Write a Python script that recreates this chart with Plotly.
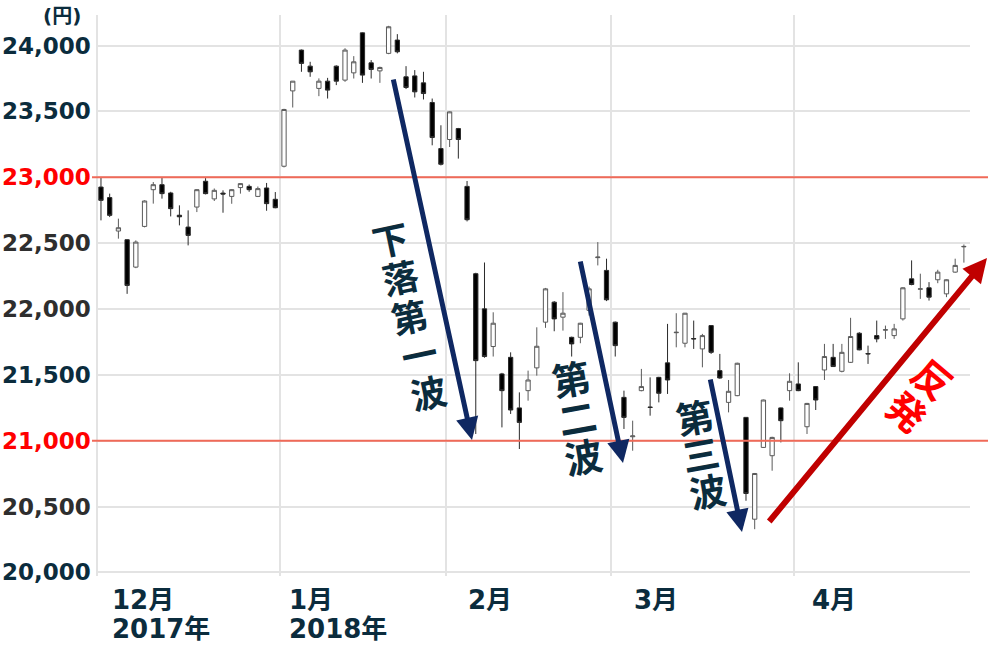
import plotly.graph_objects as go

# trading days (Nikkei 225), Dec 2017 - Apr 2018
dates = (
    ["2017-12-%02d" % d for d in [1, 4, 5, 6, 7, 8, 11, 12, 13, 14, 15, 18, 19, 20, 21, 22, 25, 26, 27, 28, 29]]
    + ["2018-01-%02d" % d for d in [4, 5, 9, 10, 11, 12, 15, 16, 17, 18, 19, 22, 23, 24, 25, 26, 29, 30, 31]]
    + ["2018-02-%02d" % d for d in [1, 2, 5, 6, 7, 8, 9, 13, 14, 15, 16, 19, 20, 21, 22, 23, 26, 27, 28]]
    + ["2018-03-%02d" % d for d in [1, 2, 5, 6, 7, 8, 9, 12, 13, 14, 15, 16, 19, 20, 22, 23, 26, 27, 28, 29, 30]]
    + ["2018-04-%02d" % d for d in [2, 3, 4, 5, 6, 9, 10, 11, 12, 13, 16, 17, 18, 19, 20, 23, 24, 25, 26, 27]]
)

opens = [22926, 22846, 22592, 22526, 22318, 22627, 22906, 22944, 22881, 22712, 22622, 22774, 22970, 22836, 22880, 22855, 22922, 22931, 22855, 22919, 22833,
         23084, 23656, 23966, 23844, 23675, 23730, 23844, 23738, 23793, 24097, 23869, 23808, 23941, 24042, 23763, 23770, 23717, 23568, 23218,
         23287, 23370, 22931, 22268, 22001, 21715, 21507, 21633, 21249, 21380, 21553, 21900, 22052, 21938, 21785, 21785, 21990, 22390, 22293,
         21900, 21329, 21030, 21380, 21255, 21481, 21591, 21820, 21740, 21776, 21697, 21874, 21532, 21291, 21342, 21177, 20404, 20949, 20886, 21249, 21380,
         21431, 21106, 21411, 21537, 21633, 21527, 21595, 21816, 21662, 21798, 21840, 21798, 21925, 22229, 22150, 22161, 22222, 22115, 22280, 22472]
highs = [23002, 22876, 22686, 22530, 22521, 22825, 22964, 23002, 22890, 22787, 22749, 22910, 22994, 22915, 22901, 22910, 22955, 22945, 22930, 22957, 22888,
         23520, 23730, 23970, 23877, 23751, 23755, 23850, 23980, 23920, 24100, 23890, 23840, 24150, 24087, 23844, 23814, 23801, 23598, 23395,
         23500, 23375, 22972, 22275, 22353, 21975, 21515, 21671, 21367, 21532, 21861, 22160, 22060, 22128, 21790, 21895, 22170, 22508, 22382,
         21905, 21380, 21152, 21545, 21481, 21485, 21887, 21968, 21970, 21912, 21811, 21878, 21659, 21461, 21592, 21180, 20755, 21312, 21030, 21252, 21512,
         21595, 21287, 21414, 21735, 21735, 21735, 21933, 21824, 21722, 21912, 21874, 21887, 22165, 22369, 22268, 22204, 22298, 22225, 22382, 22490]
lows = [22673, 22698, 22534, 22115, 22310, 22620, 22800, 22838, 22703, 22635, 22483, 22736, 22870, 22820, 22731, 22799, 22876, 22890, 22850, 22746, 22765,
        23075, 23530, 23801, 23763, 23616, 23598, 23700, 23725, 23750, 23717, 23750, 23717, 23935, 23941, 23670, 23606, 23591, 23243, 23090,
        23230, 23142, 22665, 21051, 21630, 21639, 21101, 21203, 20937, 21304, 21494, 21857, 21831, 21836, 21639, 21740, 21950, 22331, 22060,
        21639, 21089, 20924, 21375, 21190, 21291, 21355, 21709, 21709, 21697, 21557, 21659, 21470, 21215, 21338, 20544, 20328, 20945, 20772, 20987, 21304,
        21376, 21051, 21233, 21461, 21560, 21519, 21590, 21686, 21583, 21747, 21773, 21773, 21912, 22180, 22077, 22064, 22196, 22090, 22275, 22352]
closes = [22825, 22711, 22617, 22179, 22508, 22820, 22944, 22876, 22762, 22700, 22559, 22906, 22876, 22901, 22873, 22906, 22952, 22906, 22914, 22800, 22769,
          23515, 23730, 23865, 23801, 23730, 23662, 23730, 23966, 23877, 23776, 23819, 23834, 24143, 23953, 23682, 23649, 23636, 23302, 23099,
          23497, 23287, 22678, 21608, 21639, 21892, 21380, 21233, 21139, 21461, 21717, 22153, 21925, 21968, 21735, 21892, 22153, 22394, 22070,
          21722, 21177, 21036, 21411, 21253, 21360, 21461, 21823, 21968, 21773, 21798, 21671, 21476, 21375, 21588, 20599, 20751, 21309, 21025, 21152, 21451,
          21380, 21283, 21309, 21639, 21563, 21671, 21791, 21690, 21659, 21773, 21842, 21849, 22161, 22186, 22153, 22090, 22280, 22222, 22331, 22475]

y_ticks = [24000, 23500, 23000, 22500, 22000, 21500, 21000, 20500, 20000]
y_tick_text = ["24,000", "23,500", "23,000", "22,500", "22,000", "21,500", "21,000", "20,500", "20,000"]
y_tick_colors = ["#0b2c3d", "#0b2c3d", "#ff0000", "#2e2e2e", "#2e2e2e", "#0b2c3d", "#ff0000", "#2e2e2e", "#0b2c3d"]
ref_lines = [23000, 21000]
month_text = ["12月", "1月", "2月", "3月", "4月"]
year_text = ["2017年", "2018年", "", "", ""]

NAVY = "#0b2c3d"
ARROW = "#0f2862"
idx = list(range(len(dates)))
month_starts = [i for i in idx if i == 0 or dates[i][:7] != dates[i - 1][:7]]

# plot area in pixels
L, R, T, B = 96, 970, 15, 576


def px(x):
    return (x - L) / (R - L)


def py(y):
    return (B - y) / (B - T)


fig = go.Figure()
fig.add_trace(go.Candlestick(
    x=idx, open=opens, high=highs, low=lows, close=closes,
    text=dates,
    increasing=dict(fillcolor="white", line=dict(color="#5a5a5a", width=1)),
    decreasing=dict(fillcolor="black", line=dict(color="#2a2a2a", width=1)),
    whiskerwidth=0,
    showlegend=False,
))

for v in ref_lines:
    fig.add_shape(type="line", xref="paper", yref="y", x0=px(92), x1=px(988), y0=v, y1=v,
                  line=dict(color="#f06a58", width=2), layer="above")

ann = []
for v, t, c in zip(y_ticks, y_tick_text, y_tick_colors):
    ann.append(dict(x=px(93), y=v, xref="paper", yref="y", text=t, showarrow=False,
                    xanchor="right", yanchor="middle",
                    font=dict(family="DejaVu Sans", size=23, color=c, weight="bold")))
ann.append(dict(x=px(62), y=py(16), xref="paper", yref="paper", text="(円)", showarrow=False,
                xanchor="center", yanchor="middle",
                font=dict(family="DejaVu Sans, Noto Sans CJK JP", size=20, color=NAVY, weight="bold")))

label_x = [110, 287, 466, 632, 810]
for lx, m, yr in zip(label_x, month_text, year_text):
    ann.append(dict(x=px(lx), y=py(600), xref="paper", yref="paper", text=m, showarrow=False,
                    xanchor="left", yanchor="middle",
                    font=dict(family="DejaVu Sans, Noto Sans CJK JP", size=26, color=NAVY, weight="bold")))
    if yr:
        ann.append(dict(x=px(lx), y=py(629), xref="paper", yref="paper", text=yr, showarrow=False,
                        xanchor="left", yanchor="middle",
                        font=dict(family="DejaVu Sans, Noto Sans CJK JP", size=26, color=NAVY, weight="bold")))

# arrows: (tail, tip, color, width, size)
arrows = [((393, 78), (472, 440), ARROW, 5, 0.9),
          ((580, 260), (623, 463), ARROW, 5, 0.9),
          ((710, 378), (742, 532), ARROW, 5, 0.9),
          ((768, 523), (987, 258), "#c00000", 6, 0.8)]
for (tx, ty), (hx, hy), col, w, s in arrows:
    ann.append(dict(x=px(hx), y=py(hy), xref="paper", yref="paper", text="",
                    showarrow=True, axref="pixel", ayref="pixel", ax=tx - hx, ay=ty - hy,
                    arrowhead=2, arrowsize=s, arrowwidth=w, arrowcolor=col, standoff=0))

# vertical captions along the arrows: (text, first char centre, last char centre, angle, size, color)
captions = [("下落第一波", (390, 238), (428, 391), -12, 36, NAVY),
            ("第二波", (571, 378), (583, 455), -10, 38, NAVY),
            ("第三波", (694, 416), (707, 490), -10, 37, NAVY),
            ("反発", (933, 378), (908, 410), 40, 38, "#ff0000")]
for text, (x0, y0), (x1, y1), ang, size, col in captions:
    n = len(text)
    for k, ch in enumerate(text):
        f = k / (n - 1)
        ann.append(dict(x=px(x0 + (x1 - x0) * f), y=py(y0 + (y1 - y0) * f), xref="paper", yref="paper",
                        text=ch, showarrow=False, textangle=ang, xanchor="center", yanchor="middle",
                        font=dict(family="Noto Sans CJK JP", size=size, color=col, weight="bold")))

y_lo = 23000 - (B - 177.3) / 0.1317
y_hi = 23000 + (177.3 - T) / 0.1317

fig.update_layout(
    width=988, height=645,
    margin=dict(l=L, r=988 - R, t=T, b=645 - B),
    paper_bgcolor="white", plot_bgcolor="white",
    annotations=ann,
    xaxis=dict(range=[-0.57, 99.7], rangeslider=dict(visible=False),
               tickvals=[i - 0.45 for i in month_starts], showticklabels=False,
               showgrid=True, gridcolor="#e3e3e3", gridwidth=1.5, zeroline=False, showline=False, ticks=""),
    yaxis=dict(range=[y_lo, y_hi], tickvals=y_ticks, showticklabels=False,
               showgrid=True, gridcolor="#e3e3e3", gridwidth=1.5, zeroline=False, showline=False, ticks=""),
)

# page body has a default 8px margin; drop it so the figure sits at the window corner
fig.write_html("out.html", config={"displayModeBar": False},
               post_script="document.body.style.margin='0';")
